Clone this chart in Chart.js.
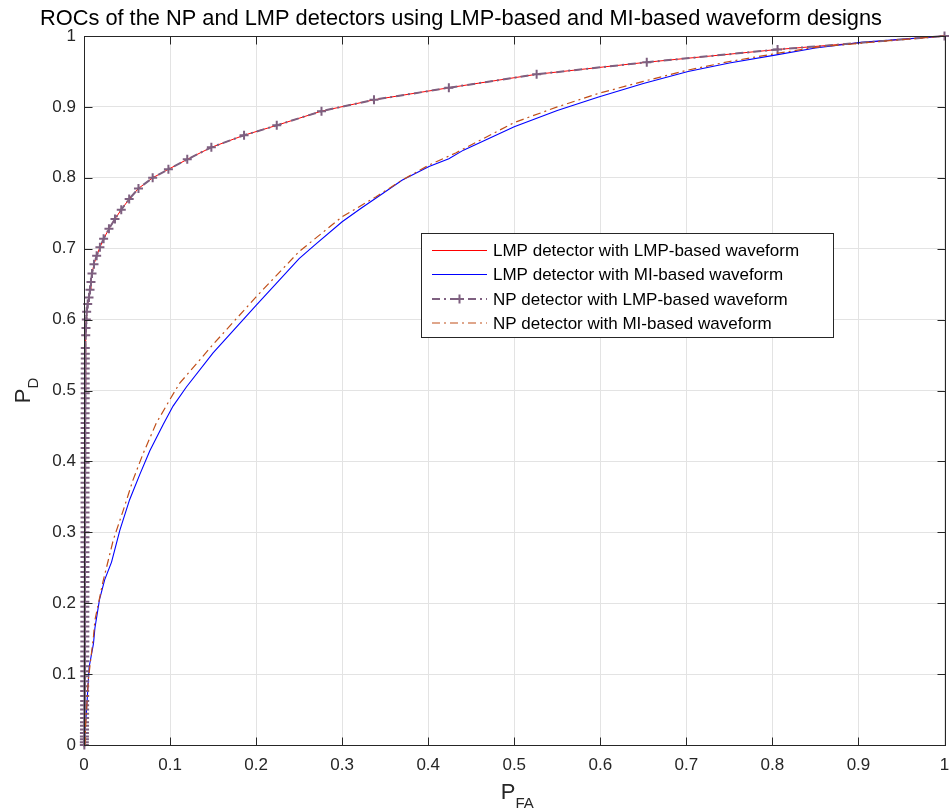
<!DOCTYPE html>
<html><head><meta charset="utf-8">
<script src="https://cdn.jsdelivr.net/npm/chart.js@4.4.1/dist/chart.umd.min.js"></script>
<style>html,body{margin:0;padding:0;background:#fff;}canvas{display:block;}</style>
</head><body>
<canvas id="c" width="951" height="811" style="width:951px;height:811px"></canvas>
<script>
const FONT = '"Liberation Sans", Arial, Helvetica, sans-serif';
const titleText = 'ROCs of the NP and LMP detectors using LMP-based and MI-based waveform designs';
const xLabelMain = 'P', xLabelSub = 'FA';
const yLabelMain = 'P', yLabelSub = 'D';
const xTickLabels = ['0','0.1','0.2','0.3','0.4','0.5','0.6','0.7','0.8','0.9','1'];
const yTickLabels = ['0','0.1','0.2','0.3','0.4','0.5','0.6','0.7','0.8','0.9','1'];
const seriesNames = [
  'LMP detector with LMP-based waveform',
  'LMP detector with MI-based waveform',
  'NP detector with LMP-based waveform',
  'NP detector with MI-based waveform'
];

// LMP detector, LMP-based waveform (red)
const lmpLmpX = [0, 0.0005, 0.0008, 0.001, 0.0012, 0.0015, 0.0020, 0.0023, 0.0027, 0.0031, 0.0043, 0.0058, 0.0070, 0.0081, 0.0093, 0.0116, 0.0147, 0.0185, 0.0228, 0.0290, 0.0360, 0.0433, 0.0525, 0.0633, 0.0798, 0.0981, 0.120, 0.148, 0.186, 0.224, 0.276, 0.337, 0.424, 0.526, 0.654, 0.806, 1.0];
const lmpLmpY = [0, 0.10, 0.25, 0.40, 0.50, 0.569, 0.578, 0.588, 0.600, 0.611, 0.622, 0.631, 0.642, 0.653, 0.665, 0.678, 0.690, 0.702, 0.714, 0.728, 0.742, 0.755, 0.770, 0.785, 0.800, 0.812, 0.826, 0.843, 0.860, 0.874, 0.894, 0.910, 0.927, 0.946, 0.963, 0.981, 1.0];

// LMP detector, MI-based waveform (blue)
const lmpMiX = [0, 0.003, 0.006, 0.011, 0.0127, 0.018, 0.024, 0.032, 0.0417, 0.053, 0.065, 0.0765, 0.092, 0.1035, 0.119, 0.150, 0.200, 0.250, 0.268, 0.300, 0.322, 0.345, 0.370, 0.401, 0.424, 0.441, 0.500, 0.550, 0.598, 0.650, 0.702, 0.750, 0.803, 0.850, 0.903, 1.0];
const lmpMiY = [0, 0.050, 0.110, 0.143, 0.165, 0.205, 0.233, 0.258, 0.303, 0.346, 0.382, 0.415, 0.452, 0.478, 0.505, 0.553, 0.620, 0.686, 0.705, 0.738, 0.757, 0.776, 0.797, 0.816, 0.827, 0.839, 0.872, 0.895, 0.914, 0.933, 0.950, 0.962, 0.973, 0.983, 0.991, 1.0];

// NP detector, LMP-based waveform (purple, dash-dot with + markers)
const npLmpX = [0.0004, 0.0004, 0.0005, 0.0005, 0.0005, 0.0006, 0.0006, 0.0006, 0.0007, 0.0007,
  0.0007, 0.0007, 0.0008, 0.0008, 0.0008, 0.0008, 0.0008, 0.0009, 0.0009, 0.0009,
  0.0009, 0.0009, 0.0009, 0.0010, 0.0010, 0.0010, 0.0010, 0.0010, 0.0010, 0.0010,
  0.0010, 0.0010, 0.0010, 0.0011, 0.0011, 0.0011, 0.0011, 0.0011, 0.0011, 0.0011,
  0.0011, 0.0011, 0.0011, 0.0011, 0.0011, 0.0011, 0.0012, 0.0012, 0.0012, 0.0012,
  0.0012, 0.0012, 0.0012, 0.0012, 0.0012, 0.0012, 0.0012, 0.0012, 0.0012, 0.0013,
  0.0013, 0.0013, 0.0013, 0.0013, 0.0013, 0.0013, 0.0013, 0.0013, 0.0013, 0.0013,
  0.0013, 0.0014, 0.0014, 0.0014, 0.0014, 0.0014, 0.0014, 0.0014, 0.0014, 0.0014,
  0.0015, 0.0015, 0.0015,
  0.0015, 0.0020, 0.0023, 0.0027, 0.0031, 0.0043, 0.0058, 0.0070, 0.0081, 0.0093, 0.0116, 0.0147, 0.0185, 0.0228, 0.0290, 0.0360, 0.0433, 0.0525, 0.0633, 0.0798, 0.0981, 0.120, 0.148, 0.186, 0.224, 0.276, 0.337, 0.424, 0.526, 0.654, 0.806, 1.0];
const npLmpY = [0.000, 0.004, 0.008, 0.012, 0.017, 0.022, 0.027, 0.032, 0.038, 0.044,
  0.050, 0.056, 0.062, 0.069, 0.076, 0.083, 0.090, 0.097, 0.104, 0.111,
  0.118, 0.125, 0.132, 0.139, 0.146, 0.153, 0.160, 0.167, 0.174, 0.181,
  0.188, 0.195, 0.202, 0.209, 0.216, 0.223, 0.230, 0.237, 0.244, 0.251,
  0.258, 0.265, 0.272, 0.279, 0.286, 0.293, 0.300, 0.307, 0.314, 0.321,
  0.328, 0.335, 0.342, 0.349, 0.356, 0.363, 0.370, 0.377, 0.384, 0.391,
  0.398, 0.405, 0.412, 0.419, 0.426, 0.433, 0.440, 0.447, 0.454, 0.461,
  0.468, 0.475, 0.482, 0.489, 0.496, 0.503, 0.510, 0.517, 0.524, 0.531,
  0.538, 0.545, 0.552,
  0.560, 0.578, 0.588, 0.600, 0.611, 0.622, 0.631, 0.642, 0.653, 0.665, 0.678, 0.690, 0.702, 0.714, 0.728, 0.742, 0.755, 0.770, 0.785, 0.800, 0.812, 0.826, 0.843, 0.860, 0.874, 0.894, 0.910, 0.927, 0.946, 0.963, 0.981, 1.0];

// NP detector, MI-based waveform (orange, dash-dot)
const npMiX = [0.001, 0.002, 0.004, 0.005, 0.011, 0.0127, 0.022, 0.034, 0.0456, 0.057, 0.0687, 0.084, 0.0997, 0.111, 0.150, 0.200, 0.250, 0.300, 0.339, 0.370, 0.401, 0.432, 0.500, 0.550, 0.598, 0.650, 0.702, 0.750, 0.803, 0.850, 0.903, 1.0];
const npMiY = [0, 0.030, 0.070, 0.092, 0.153, 0.176, 0.230, 0.289, 0.331, 0.374, 0.411, 0.454, 0.487, 0.510, 0.565, 0.632, 0.696, 0.745, 0.773, 0.797, 0.818, 0.835, 0.878, 0.900, 0.919, 0.936, 0.952, 0.964, 0.975, 0.984, 0.990, 1.0];

const COLORS = ['#ff0000', '#0000ff', '#7e6080', '#c04e18'];
const toPts = (xs, ys) => xs.map((x, i) => ({x, y: ys[i]}));

const boxPlugin = {
  id: 'matlabBox',
  afterDraw(chart) {
    const {ctx, chartArea: a, scales} = chart;
    const L = Math.round(a.left) + 0.5, R = Math.round(a.right) + 0.5;
    const T = Math.round(a.top) + 0.5, B = Math.round(a.bottom) + 0.5;
    ctx.save();
    ctx.strokeStyle = '#262626';
    ctx.lineWidth = 1;
    ctx.setLineDash([]);
    ctx.strokeRect(L, T, R - L, B - T);
    const tl = 8;
    ctx.beginPath();
    scales.x.ticks.forEach((t, i) => {
      const px = Math.round(scales.x.getPixelForTick(i)) + 0.5;
      ctx.moveTo(px, B); ctx.lineTo(px, B - tl);
      ctx.moveTo(px, T); ctx.lineTo(px, T + tl);
    });
    scales.y.ticks.forEach((t, i) => {
      const py = Math.round(scales.y.getPixelForTick(i)) + 0.5;
      ctx.moveTo(L, py); ctx.lineTo(L + tl, py);
      ctx.moveTo(R, py); ctx.lineTo(R - tl, py);
    });
    ctx.stroke();

    // title
    ctx.fillStyle = '#000';
    ctx.font = '21.8px ' + FONT;
    ctx.textAlign = 'left';
    ctx.textBaseline = 'alphabetic';
    ctx.fillText(titleText, 40, 25);

    // x label
    ctx.fillStyle = '#262626';
    ctx.font = '22px ' + FONT;
    const wP = ctx.measureText(xLabelMain).width;
    ctx.font = '15px ' + FONT;
    const wS = ctx.measureText(xLabelSub).width;
    const cx = (a.left + a.right) / 2 + 3;
    let x0 = cx - (wP + wS) / 2;
    ctx.font = '22px ' + FONT;
    ctx.fillText(xLabelMain, x0, 799);
    ctx.font = '15px ' + FONT;
    ctx.fillText(xLabelSub, x0 + wP, 808);

    // y label (rotated)
    ctx.save();
    ctx.translate(30, (a.top + a.bottom) / 2);
    ctx.rotate(-Math.PI / 2);
    ctx.font = '22px ' + FONT;
    const wPy = ctx.measureText(yLabelMain).width;
    ctx.font = '15px ' + FONT;
    const wSy = ctx.measureText(yLabelSub).width;
    let y0 = -(wPy + wSy) / 2;
    ctx.font = '22px ' + FONT;
    ctx.fillText(yLabelMain, y0, 0);
    ctx.font = '15px ' + FONT;
    ctx.fillText(yLabelSub, y0 + wPy, 8);
    ctx.restore();

    // legend
    const lx = 421.5, ly = 233.5, lw = 412, lh = 104;
    ctx.fillStyle = '#fff';
    ctx.fillRect(lx, ly, lw, lh);
    ctx.strokeStyle = '#262626';
    ctx.lineWidth = 1;
    ctx.strokeRect(lx, ly, lw, lh);
    const rows = [250.5, 274.5, 299, 323];
    const styles = [
      {c: COLORS[0], w: 1, dash: []},
      {c: COLORS[1], w: 1.2, dash: []},
      {c: COLORS[2], w: 2, dash: [8, 4, 2, 4], marker: true},
      {c: COLORS[3], w: 1.2, dash: [8, 4, 2, 4]}
    ];
    rows.forEach((ry, i) => {
      const s = styles[i];
      ctx.strokeStyle = s.c;
      ctx.lineWidth = s.w;
      ctx.setLineDash(s.dash);
      ctx.beginPath();
      ctx.moveTo(432, ry); ctx.lineTo(487, ry);
      ctx.stroke();
      ctx.setLineDash([]);
      if (s.marker) {
        ctx.lineWidth = 2;
        ctx.beginPath();
        ctx.moveTo(459.5 - 4.5, ry); ctx.lineTo(459.5 + 4.5, ry);
        ctx.moveTo(459.5, ry - 4.5); ctx.lineTo(459.5, ry + 4.5);
        ctx.stroke();
      }
      ctx.fillStyle = '#000';
      ctx.font = '17px ' + FONT;
      ctx.textBaseline = 'middle';
      ctx.fillText(seriesNames[i], 493, ry + 1);
    });
    ctx.restore();
  }
};

const axisCommon = {
  type: 'linear', min: 0, max: 1,
  grid: {color: '#e3e3e3', lineWidth: 1, drawTicks: false},
  border: {display: false},
};

new Chart(document.getElementById('c'), {
  type: 'scatter',
  data: {
    datasets: [
      {label: seriesNames[0], data: toPts(lmpLmpX, lmpLmpY), showLine: true, borderColor: COLORS[0], borderWidth: 1, pointRadius: 0, order: 4, clip: false},
      {label: seriesNames[1], data: toPts(lmpMiX, lmpMiY), showLine: true, borderColor: COLORS[1], borderWidth: 1.1, pointRadius: 0, order: 3, clip: false},
      {label: seriesNames[2], data: toPts(npLmpX, npLmpY), showLine: true, borderColor: COLORS[2], borderWidth: 2, borderDash: [8, 4, 2, 4], pointStyle: 'cross', pointRadius: 4.5, pointBorderWidth: 2, pointBorderColor: COLORS[2], pointBackgroundColor: COLORS[2], order: 2, clip: false},
      {label: seriesNames[3], data: toPts(npMiX, npMiY), showLine: true, borderColor: COLORS[3], borderWidth: 1.2, borderDash: [8, 4, 2, 4], pointRadius: 0, order: 1, clip: false}
    ]
  },
  options: {
    responsive: false,
    animation: false,
    devicePixelRatio: 1,
    layout: {padding: {top: 36, right: 4, left: 0, bottom: 0}},
    plugins: {legend: {display: false}, title: {display: false}, tooltip: {enabled: false}},
    elements: {line: {tension: 0}},
    scales: {
      x: Object.assign({}, axisCommon, {
        ticks: {stepSize: 0.1, autoSkip: false, maxRotation: 0, padding: 10, color: '#262626', font: {family: FONT, size: 17},
          callback: (v, i) => xTickLabels[i]},
        afterFit(s) { s.height = 66; s.paddingLeft = 0; s.paddingRight = 0; }
      }),
      y: Object.assign({}, axisCommon, {
        ticks: {stepSize: 0.1, autoSkip: false, padding: 8, color: '#262626', font: {family: FONT, size: 17},
          callback: (v, i) => yTickLabels[i]},
        afterFit(s) { s.width = 84; s.paddingTop = 0; s.paddingBottom = 0; }
      })
    }
  },
  plugins: [boxPlugin]
});
</script>
</body></html>
